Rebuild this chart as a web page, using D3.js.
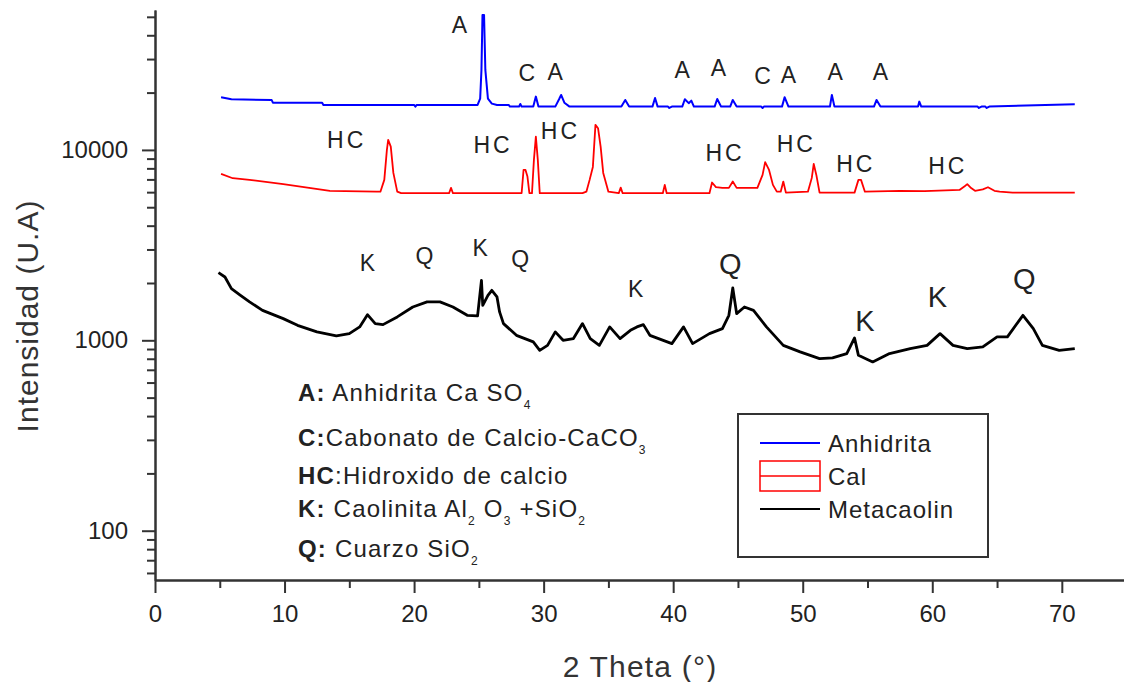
<!DOCTYPE html>
<html>
<head>
<meta charset="utf-8">
<script src="https://cdn.jsdelivr.net/npm/d3@7"></script>
<style>
    body { margin: 0; background: #fff; }
    svg text { font-family: "Liberation Sans", Arial, sans-serif; fill: #222; }
</style>
</head>
<body>
<svg id="drawing_region"></svg>
<script>
// [2 theta (deg), intensity (counts)]
const anhidrita = [
    [5.1, 18910], [5.9, 18450], [9.0, 18300], [9.1, 17710], [12.9, 17710], [13.0, 17220],
    [20.0, 17220], [20.1, 16880], [20.2, 17220], [24.9, 17220], [25.1, 18600], [25.2, 26300],
    [25.28, 51120], [25.4, 51120], [25.5, 26300], [25.7, 18600], [26.0, 17500], [26.4, 17220],
    [27.3, 17220], [27.4, 16880], [28.1, 16880], [28.2, 17440], [28.3, 16880], [29.2, 16880],
    [29.4, 19050], [29.6, 16880], [30.9, 16880], [31.2, 18500], [31.35, 19440], [31.6, 17700],
    [32.0, 16880], [36.0, 16880], [36.3, 18300], [36.6, 16880], [38.4, 16880], [38.6, 18750],
    [38.8, 16880], [39.6, 16880], [39.7, 16610], [39.9, 16880], [40.7, 16880], [40.9, 18450],
    [41.2, 17600], [41.4, 18150], [41.6, 16880], [43.2, 16880], [43.4, 18520], [43.7, 16880],
    [44.4, 16880], [44.6, 18300], [44.9, 16880], [46.8, 16880], [46.9, 16610], [47.0, 16880],
    [48.4, 16880], [48.6, 18910], [48.9, 16880], [52.1, 16880], [52.25, 19440], [52.45, 16880],
    [55.5, 16880], [55.7, 18300], [56.0, 16880], [58.9, 16880], [59.0, 17930], [59.15, 16880],
    [63.5, 16880], [63.6, 16610], [63.8, 16880], [64.1, 16880], [64.2, 16610], [64.4, 16880],
    [71.0, 17380]
];

const cal = [
    [5.1, 7480], [6.0, 7100], [7.3, 6960], [9.9, 6610], [13.5, 6100], [17.1, 6035],
    [17.4, 6035], [17.7, 6960], [17.9, 10000], [18.0, 11280], [18.2, 10410], [18.4, 7570],
    [18.7, 6035], [19.0, 5924], [22.7, 5924], [22.85, 6320], [23.0, 5924], [28.3, 5924],
    [28.45, 7850], [28.6, 7850], [28.75, 7240], [28.9, 5924], [29.1, 5924], [29.25, 8860],
    [29.4, 11740], [29.55, 8860], [29.7, 5924], [33.0, 5924], [33.3, 6035], [33.55, 6960],
    [33.8, 8140], [34.0, 13530], [34.2, 13000], [34.4, 10410], [34.6, 7570], [35.0, 6035],
    [35.8, 5924], [35.95, 6340], [36.1, 5924], [39.2, 5924], [39.35, 6550], [39.5, 5924],
    [42.8, 5924], [43.0, 6740], [43.3, 6380], [43.8, 6320], [44.3, 6320], [44.6, 6820],
    [44.9, 6320], [46.5, 6320], [46.9, 7390], [47.1, 8620], [47.4, 7850], [47.7, 6550],
    [48.0, 6035], [48.3, 6035], [48.5, 6820], [48.7, 5966], [50.4, 6035], [50.7, 7130],
    [50.85, 8440], [51.05, 7390], [51.3, 5966], [54.0, 5966], [54.3, 6960], [54.5, 6960],
    [54.8, 6035], [57.5, 6100], [59.4, 6080], [62.1, 6160], [62.5, 6450], [62.7, 6610],
    [63.0, 6300], [63.3, 6100], [63.9, 6200], [64.3, 6365], [64.8, 6100], [65.2, 6035],
    [66.2, 5966], [71.0, 5966]
];

const metacaolin = [
    [4.9, 2267], [5.4, 2151], [5.9, 1868], [6.6, 1722], [7.3, 1591], [8.3, 1437],
    [9.9, 1300], [11.0, 1199], [12.5, 1107], [14.0, 1055], [15.0, 1084], [15.8, 1176],
    [16.4, 1364], [17.0, 1224], [17.6, 1209], [18.7, 1327], [19.9, 1497], [21.0, 1591],
    [22.0, 1591], [23.0, 1497], [24.1, 1353], [24.9, 1343], [25.2, 2065], [25.3, 1526],
    [25.7, 1722], [26.0, 1830], [26.4, 1690], [26.6, 1410], [26.9, 1224], [27.9, 1062],
    [29.2, 981], [29.7, 886], [30.3, 941], [30.9, 1107], [31.5, 1000], [32.3, 1021],
    [33.0, 1224], [33.6, 1021], [34.3, 941], [35.1, 1176], [35.9, 1021], [36.7, 1128],
    [37.2, 1176], [37.7, 1209], [38.2, 1062], [39.9, 961], [40.8, 1176], [41.5, 961],
    [42.8, 1084], [43.8, 1152], [44.3, 1353], [44.6, 1884], [44.9, 1381], [45.5, 1497],
    [46.2, 1437], [47.2, 1176], [48.5, 941], [49.8, 869], [51.3, 802], [52.3, 809],
    [53.4, 852], [54.0, 1029], [54.3, 834], [55.4, 770], [56.7, 852], [58.3, 905],
    [59.6, 941], [60.6, 1084], [61.6, 941], [62.7, 905], [63.9, 923], [65.0, 1042],
    [65.8, 1042], [67.0, 1353], [67.8, 1152], [68.5, 941], [69.8, 886], [71.0, 905]
];

// phase letters over the peaks: [letter, 2 theta, intensity]
const anhidrita_labels = [
    ['A', 23.5, 45300], ['C', 28.7, 25360], ['A', 30.9, 25670], ['A', 40.7, 26300],
    ['A', 43.5, 26940], ['C', 46.9, 24460], ['A', 48.9, 24760], ['A', 52.5, 25670],
    ['A', 56.0, 25670]
];
const cal_labels = [
    ['HC', 14.8, 11280], ['HC', 26.1, 10620], ['HC', 31.3, 12580], ['HC', 44.0, 9640],
    ['HC', 49.5, 10750], ['HC', 54.1, 8450], ['HC', 61.2, 8240]
];
const metacaolin_labels = [
    ['K', 16.4, 2558], ['Q', 20.8, 2784], ['K', 25.1, 3066], ['Q', 28.2, 2685],
    ['K', 37.1, 1868], ['Q', 44.4, 2527], ['K', 54.8, 1269], ['K', 60.4, 1696],
    ['Q', 67.1, 2108]
];

const series_names = ['Anhidrita', 'Cal', 'Metacaolin'];
const x_ticks = [0, 10, 20, 30, 40, 50, 60, 70];
const x_minor = [5, 15, 25, 35, 45, 55, 65];
const y_ticks = [100, 1000, 10000];
const y_minor = [60, 70, 80, 90, 200, 300, 400, 500, 600, 700, 800, 900,
    2000, 3000, 4000, 5000, 6000, 7000, 8000, 9000, 20000, 30000, 40000, 50000];

// phase key: [text, kind]  kind: b = bold, s = subscript
const key_rows = [
    [['A:', 'b'], [' Anhidrita Ca SO', ''], ['4', 's']],
    [['C:', 'b'], ['Cabonato de Calcio-CaCO', ''], ['3', 's']],
    [['HC', 'b'], [':Hidroxido de calcio', '']],
    [['K:', 'b'], [' Caolinita Al', ''], ['2', 's'], [' O', ''], ['3', 's'], [' +SiO', ''], ['2', 's']],
    [['Q:', 'b'], [' Cuarzo SiO', ''], ['2', 's']]
];

class XrdChart {
    constructor(config) {
        this.config = config;
        this.init();
    }

    init() {
        let self = this;
        const c = self.config;

        self.svg = d3.select(c.parent)
            .attr('width', c.width)
            .attr('height', c.height);

        self.xscale = d3.scaleLinear()
            .domain([0, 74.8])
            .range([c.margin.left, c.width]);

        self.yscale = d3.scaleLog()
            .domain([55.1, 54300])
            .range([c.height - c.margin.bottom, c.margin.top]);

        self.line = d3.line()
            .x(d => self.xscale(d[0]))
            .y(d => self.yscale(d[1]));
    }

    render() {
        let self = this;
        const c = self.config;
        const y0 = c.height - c.margin.bottom;

        // axes
        const xaxis_group = self.svg.append('g')
            .attr('transform', `translate(0, ${y0})`);
        xaxis_group.call(d3.axisBottom(self.xscale).tickValues(x_minor).tickSize(8).tickSizeOuter(0).tickFormat(''));
        xaxis_group.append('g').call(d3.axisBottom(self.xscale).tickValues(x_ticks).tickSize(13).tickPadding(12).tickSizeOuter(0));

        const yaxis_group = self.svg.append('g')
            .attr('transform', `translate(${c.margin.left}, 0)`);
        yaxis_group.call(d3.axisLeft(self.yscale).tickValues(y_minor).tickSize(8).tickSizeOuter(0).tickFormat(''));
        yaxis_group.append('g').call(d3.axisLeft(self.yscale).tickValues(y_ticks).tickSize(13).tickPadding(14).tickSizeOuter(0).tickFormat(d3.format('d')));

        self.svg.selectAll('.domain, .tick line')
            .attr('stroke', '#333')
            .attr('stroke-width', 2);
        self.svg.selectAll('.tick text')
            .attr('font-size', 24)
            .attr('font-family', null)
            .style('fill', '#222');

        // patterns
        self.svg.selectAll('path.xrd')
            .data([anhidrita, cal, metacaolin])
            .enter()
            .append('path')
            .attr('class', 'xrd')
            .attr('fill', 'none')
            .attr('stroke', (d, i) => c.colors[i])
            .attr('stroke-width', (d, i) => [2, 1.8, 2.8][i])
            .attr('stroke-linejoin', 'round')
            .attr('d', self.line);

        // peak letters
        const labels = [].concat(
            anhidrita_labels.map(d => ({ t: d[0], x: d[1], y: d[2], fs: 23 })),
            cal_labels.map(d => ({ t: d[0], x: d[1], y: d[2], fs: 23 })),
            // the right hand K / Q letters are printed bigger
            metacaolin_labels.map(d => ({ t: d[0], x: d[1], y: d[2], fs: d[1] > 40 ? 29 : 23 }))
        );
        self.svg.selectAll('text.peak')
            .data(labels)
            .enter()
            .append('text')
            .attr('class', 'peak')
            .attr('x', d => self.xscale(d.x))
            .attr('y', d => self.yscale(d.y))
            .attr('dy', '0.36em')
            .attr('text-anchor', 'middle')
            .attr('font-size', d => d.fs)
            .attr('letter-spacing', d => d.t.length > 1 ? 3 : 0)
            .text(d => d.t);

        // phase key
        const key_y = [401, 446, 484, 517, 557];
        key_rows.forEach((row, i) => {
            const t = self.svg.append('text')
                .attr('x', 298)
                .attr('y', key_y[i])
                .attr('font-size', 24)
                .attr('letter-spacing', 1.2);
            let down = false;
            row.forEach(seg => {
                const sp = t.append('tspan').text(seg[0]);
                if (seg[1] == 'b') sp.attr('font-weight', 'bold');
                if (seg[1] == 's') {
                    sp.attr('font-size', 12).attr('dy', 8);
                    down = true;
                } else if (down) {
                    sp.attr('dy', -8);
                    down = false;
                }
            });
        });

        // legend
        const lg = self.svg.append('g');
        lg.append('rect')
            .attr('x', 738).attr('y', 414)
            .attr('width', 250).attr('height', 143)
            .attr('fill', 'none')
            .attr('stroke', '#333')
            .attr('stroke-width', 2);
        series_names.forEach((name, i) => {
            const ly = 443 + i * 33;
            if (i == 1) {
                lg.append('rect')
                    .attr('x', 760).attr('y', ly - 15)
                    .attr('width', 60).attr('height', 30)
                    .attr('fill', 'none')
                    .attr('stroke', c.colors[i])
                    .attr('stroke-width', 1.5);
            }
            lg.append('line')
                .attr('x1', 760).attr('x2', 820)
                .attr('y1', ly).attr('y2', ly)
                .attr('stroke', c.colors[i])
                .attr('stroke-width', i == 1 ? 1.5 : 2);
            lg.append('text')
                .attr('x', 828)
                .attr('y', ly + 9)
                .attr('font-size', 24)
                .attr('letter-spacing', 1)
                .text(name);
        });

        // axis titles
        self.svg.append('text')
            .attr('transform', `translate(38, 316) rotate(-90)`)
            .attr('text-anchor', 'middle')
            .attr('font-size', 30)
            .attr('letter-spacing', 1)
            .style('fill', '#333')
            .text('Intensidad (U.A)');

        self.svg.append('text')
            .attr('x', 640)
            .attr('y', 677)
            .attr('text-anchor', 'middle')
            .attr('font-size', 30)
            .attr('letter-spacing', 1.2)
            .style('fill', '#333')
            .text('2 Theta (°)');
    }
}

const config = {
    parent: '#drawing_region',
    width: 1124,
    height: 682,
    margin: { top: 10, right: 0, bottom: 102, left: 155 },
    colors: ['#0000ff', '#ff0000', '#000000']
};

const chart = new XrdChart(config);
chart.render();
</script>
</body>
</html>
